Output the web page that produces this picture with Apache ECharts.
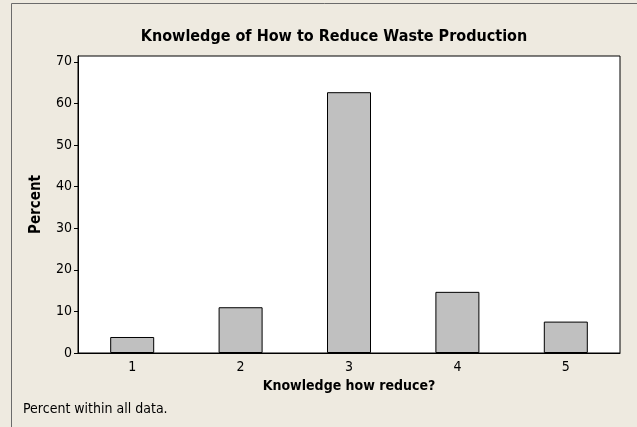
<!DOCTYPE html>
<html>
<head>
<meta charset="utf-8">
<script src="https://cdn.jsdelivr.net/npm/echarts@6/dist/echarts.min.js"></script>
<style>
  html, body { margin: 0; padding: 0; background: #EEEAE0; }
  #chart { width: 637px; height: 427px; }
</style>
</head>
<body>
<div id="chart"></div>
<script>
// data
const categories = ['1', '2', '3', '4', '5']
const percents = [3.85, 11.0, 62.7, 14.7, 7.55]
const yTicks = [0, 10, 20, 30, 40, 50, 60, 70]

const FONT = '"DejaVu Sans Condensed", "DejaVu Sans", sans-serif'

const chart = echarts.init(document.getElementById('chart'))

const option = {
  backgroundColor: '#EEEAE0',
  animation: false,
  textStyle: { fontFamily: FONT, color: '#000' },
  title: {
    text: 'Knowledge of How to Reduce Waste Production',
    left: 329,
    textAlign: 'center',
    top: 24,
    textStyle: { fontFamily: FONT, fontSize: 16, fontWeight: 'bold', color: '#000' }
  },
  graphic: [
    // outer frame (only left/top show in the crop)
    {
      type: 'polyline',
      shape: { points: [[11.5, 427], [11.5, 3.5], [637, 3.5]] },
      style: { stroke: '#6b6b6b', lineWidth: 1, fill: null },
      silent: true
    },
    {
      type: 'text',
      left: 23,
      top: 402,
      style: { text: 'Percent within all data.', font: '14px ' + FONT, fill: '#000' }
    }
  ],
  grid: {
    left: 78,
    right: 17,
    top: 56,
    bottom: 74,
    show: true,
    backgroundColor: '#fff',
    borderColor: '#000',
    borderWidth: 1
  },
  xAxis: {
    type: 'category',
    data: categories,
    name: 'Knowledge how reduce?',
    nameLocation: 'middle',
    nameGap: 26,
    nameTextStyle: { fontFamily: FONT, fontSize: 14, fontWeight: 'bold', color: '#000' },
    axisLine: { lineStyle: { color: '#000' } },
    axisTick: { alignWithLabel: true, length: 4, lineStyle: { color: '#000' } },
    axisLabel: { fontSize: 14, color: '#000', margin: 7 }
  },
  yAxis: {
    type: 'value',
    min: 0,
    max: 71.4,
    interval: 10,
    name: 'Percent',
    nameLocation: 'middle',
    nameGap: 34,
    nameTextStyle: { fontFamily: FONT, fontSize: 15, fontWeight: 'bold', color: '#000' },
    splitLine: { show: false },
    axisLine: { show: true, lineStyle: { color: '#000' } },
    axisTick: { show: true, length: 4, customValues: yTicks, lineStyle: { color: '#000' } },
    axisLabel: { fontSize: 14, color: '#000', margin: 6, customValues: yTicks }
  },
  series: [{
    type: 'bar',
    data: percents,
    barWidth: 44,
    itemStyle: { color: '#C0C0C0', borderColor: '#000', borderWidth: 1 }
  }]
}

chart.setOption(option)
</script>
</body>
</html>
